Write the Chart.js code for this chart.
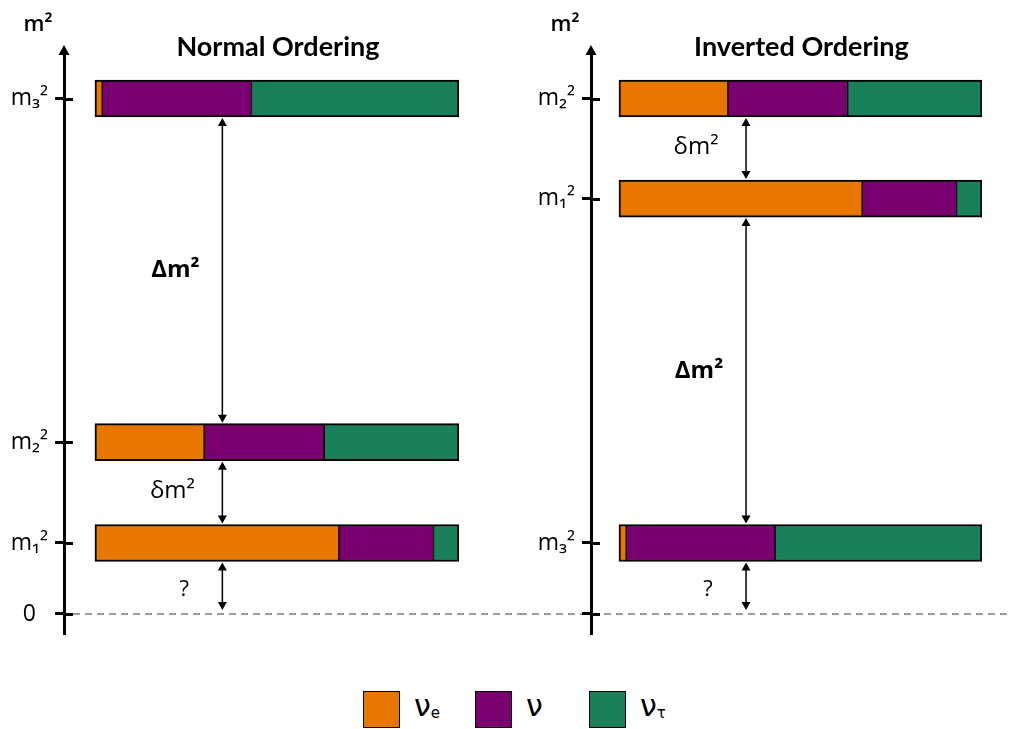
<!DOCTYPE html>
<html>
<head>
<meta charset="utf-8">
<script src="https://cdn.jsdelivr.net/npm/chart.js@4.4.1/dist/chart.umd.min.js"></script>
<style>
  html, body { margin: 0; padding: 0; background: #fff; }
  #wrap { position: relative; width: 1012px; height: 729px; overflow: hidden;
          font-family: Lato, 'DejaVu Sans', sans-serif; }
  canvas { position: absolute; top: 0; }
  #no { left: 0; }
  #io { left: 520px; }
  .item { position: absolute; top: 690px; height: 38px; display: flex; align-items: center; }
  .box { width: 35px; height: 35px; border: 1.5px solid #000; }
  .lbl { font-family: 'DejaVu Sans', sans-serif; font-size: 30px; margin-left: 14px; line-height: 38px; }
  .lbl sub { font-size: 15px; vertical-align: -2px; }
</style>
</head>
<body>
<div id="wrap">
  <canvas id="no" width="520" height="660"></canvas>
  <canvas id="io" width="492" height="660"></canvas>
</div>
<script>
// ── Data ────────────────────────────────────────────────────────────────
const FLAVOURS    = ['νe', 'ν', 'ντ'];
const FLAV_BASE   = ['ν', 'ν', 'ν'];
const FLAV_SUB    = ['e', '', 'τ'];
const COLORS      = ['#E97600', '#7B006F', '#19805A'];

// mass states m1, m2, m3 (m² in arbitrary units)
const massLabels     = ['m₁²', 'm₂²', 'm₃²'];
const levelsNormal   = [1.00, 2.42, 7.26];
const levelsInverted = [5.85, 7.26, 1.00];

// flavour content of each mass state (m1, m2, m3)
const fracE   = [0.67, 0.30, 0.02];
const fracMu  = [0.26, 0.33, 0.41];
const fracTau = [0.07, 0.37, 0.57];

// splittings, from the bottom up
const gapLabelsNormal   = ['?', 'δm²', 'Δm²'];
const gapLabelsInverted = ['?', 'Δm²', 'δm²'];

const Y_MIN = -0.2676, Y_MAX = 7.915;

// ── Style ───────────────────────────────────────────────────────────────
const FONT = "Lato, 'DejaVu Sans', sans-serif";
const TICK_FONT = "'Open Sans', 'DejaVu Sans', sans-serif";
const BAR_H = 37;
const ARROW_X = 0.35;          // x value (fraction of bar) where the splitting arrows sit
const GAP_STYLE = {
  '?':   { dx: -38, dy: 3,  font: `22px ${TICK_FONT}` },
  'δm²': { dx: -50, dy: -1, font: `24px ${TICK_FONT}` },
  'Δm²': { dx: -47, dy: 0,  font: `bold 24px ${TICK_FONT}` },
};

const panels = [
  { canvas: 'no', title: 'Normal Ordering',   levels: levelsNormal,   gapLabels: gapLabelsNormal,
    zeroLabel: '0', axisW: 64, padRight: 61, xMin: -0.085, dashFrom: 73 },
  { canvas: 'io', title: 'Inverted Ordering', levels: levelsInverted, gapLabels: gapLabelsInverted,
    zeroLabel: '',  axisW: 71, padRight: 30, xMin: -0.077, dashFrom: 0 },
];

// ── Helpers ─────────────────────────────────────────────────────────────
function tickList(p) {
  const t = [{ value: 0, label: p.zeroLabel }];
  p.levels.forEach((v, i) => t.push({ value: v, label: massLabels[i] }));
  return t.sort((a, b) => a.value - b.value);
}

function gapList(p) {
  const sorted = [0, ...p.levels.slice().sort((a, b) => a - b)];
  return p.gapLabels.map((lab, i) => ({ from: sorted[i], to: sorted[i + 1], label: lab }));
}

function datasetsFor(levels) {
  return [fracE, fracMu, fracTau].map((frac, i) => ({
    label: FLAVOURS[i],
    data: levels.map((lv, k) => ({ x: frac[k], y: lv })),
    backgroundColor: COLORS[i],
    borderColor: '#000',
    borderWidth: { top: 2, bottom: 2, left: i === 0 ? 2 : 1, right: i === 2 ? 2 : 1 },
    borderSkipped: false,
    barThickness: BAR_H,
  }));
}

function vArrow(ctx, x, yTop, yBot) {
  const hw = 4.5, hh = 8;
  ctx.strokeStyle = '#000';
  ctx.fillStyle = '#000';
  ctx.lineWidth = 1.5;
  ctx.beginPath();
  ctx.moveTo(x, yTop + hh - 1);
  ctx.lineTo(x, yBot - hh + 1);
  ctx.stroke();
  ctx.beginPath();
  ctx.moveTo(x, yTop); ctx.lineTo(x - hw, yTop + hh); ctx.lineTo(x + hw, yTop + hh); ctx.closePath();
  ctx.fill();
  ctx.beginPath();
  ctx.moveTo(x, yBot); ctx.lineTo(x - hw, yBot - hh); ctx.lineTo(x + hw, yBot - hh); ctx.closePath();
  ctx.fill();
}

// ── Decorations: zero line, axis arrow, titles, splitting arrows ────────
function decor(p) {
  return {
    id: 'decor',
    beforeDraw(chart) {
      const { ctx } = chart;
      const y0 = chart.scales.y.getPixelForValue(0);
      ctx.save();
      ctx.strokeStyle = '#9a9a9a';
      ctx.lineWidth = 2;
      ctx.setLineDash([7, 5]);
      ctx.beginPath();
      ctx.moveTo(p.dashFrom, y0);
      ctx.lineTo(chart.width, y0);
      ctx.stroke();
      ctx.restore();
    },
    afterDraw(chart) {
      const { ctx, chartArea } = chart;
      const ys = chart.scales.y, xs = chart.scales.x;
      const ax = chartArea.left;
      ctx.save();

      // axis arrowhead + right half of the ticks
      ctx.fillStyle = '#000';
      ctx.beginPath();
      ctx.moveTo(ax, 45); ctx.lineTo(ax - 5.5, 55); ctx.lineTo(ax + 5.5, 55); ctx.closePath();
      ctx.fill();
      ctx.strokeStyle = '#000';
      ctx.lineWidth = 3;
      tickList(p).forEach(t => {
        const y = Math.round(ys.getPixelForValue(t.value)) + 0.5;
        ctx.beginPath(); ctx.moveTo(ax - 1, y); ctx.lineTo(ax + 9, y); ctx.stroke();
      });

      // axis name
      ctx.textAlign = 'center';
      ctx.textBaseline = 'alphabetic';
      ctx.font = `600 22px ${TICK_FONT}`;
      ctx.fillText('m²', ax - 26, 31);

      // panel title
      const x0 = xs.getPixelForValue(0), x1 = xs.getPixelForValue(1);
      ctx.font = `bold 27px ${FONT}`;
      ctx.textBaseline = 'middle';
      ctx.fillText(p.title, (x0 + x1) / 2 + 1, 47);

      // splittings
      const axx = xs.getPixelForValue(ARROW_X);
      gapList(p).forEach(g => {
        const yBot = g.from === 0 ? ys.getPixelForValue(0) - 4 : ys.getPixelForValue(g.from) - BAR_H / 2 - 1;
        const yTop = ys.getPixelForValue(g.to) + BAR_H / 2 + 1;
        vArrow(ctx, axx, yTop, yBot);
        const st = GAP_STYLE[g.label];
        ctx.font = st.font;
        ctx.textAlign = 'center';
        ctx.textBaseline = 'middle';
        ctx.fillText(g.label, axx + st.dx, (yTop + yBot) / 2 + st.dy);
      });
      ctx.restore();
    }
  };
}

// ── Charts ──────────────────────────────────────────────────────────────
panels.forEach(p => {
  const ticks = tickList(p);
  new Chart(document.getElementById(p.canvas), {
    type: 'bar',
    data: { datasets: datasetsFor(p.levels) },
    options: {
      indexAxis: 'y',
      responsive: false,
      animation: false,
      events: [],
      layout: { padding: { left: 0, right: p.padRight, top: 52, bottom: 27 } },
      plugins: { legend: { display: false }, tooltip: { enabled: false }, title: { display: false } },
      scales: {
        x: { type: 'linear', stacked: true, min: p.xMin, max: 1, display: false },
        y: {
          type: 'linear', stacked: true, offset: false, min: Y_MIN, max: Y_MAX,
          afterBuildTicks: s => { s.ticks = ticks.map(t => ({ value: t.value })); },
          afterFit: s => { s.width = p.axisW; },
          ticks: {
            autoSkip: false,
            crossAlign: 'center',
            color: '#000',
            padding: 7,
            font: { family: TICK_FONT, size: 23 },
            callback: v => (ticks.find(t => t.value === v) || {}).label,
          },
          grid: { offset: false, drawOnChartArea: false, drawTicks: true, tickLength: 9, color: '#000', lineWidth: 3 },
          border: { display: true, color: '#000', width: 3 },
        }
      }
    },
    plugins: [decor(p)]
  });
});

// ── Legend ──────────────────────────────────────────────────────────────
const LEGEND_X = [363, 475, 589];
const wrap = document.getElementById('wrap');
FLAVOURS.forEach((f, i) => {
  const item = document.createElement('div');
  item.className = 'item';
  item.style.left = LEGEND_X[i] + 'px';
  item.innerHTML = `<div class="box" style="background:${COLORS[i]}"></div>` +
    `<span class="lbl">${FLAV_BASE[i]}<sub>${FLAV_SUB[i]}</sub></span>`;
  wrap.appendChild(item);
});
</script>
</body>
</html>
